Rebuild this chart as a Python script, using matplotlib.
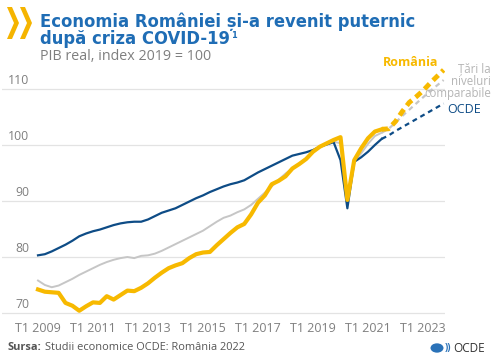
import matplotlib
matplotlib.use("Agg")
import matplotlib.pyplot as plt
import matplotlib.font_manager as fm
from matplotlib.patches import Polygon, Circle
import numpy as np

# -----------------------------
# Data (quarterly, T1 2009 = index 0)
# -----------------------------

ocde = [80.3, 80.5, 81.0, 81.6, 82.2, 82.9, 83.7, 84.2, 84.6, 84.9,
        85.3, 85.7, 86.0, 86.2, 86.3, 86.3, 86.7, 87.3, 87.9, 88.3,
        88.7, 89.3, 89.9, 90.5, 91.0, 91.6, 92.1, 92.6, 93.0, 93.3,
        93.7, 94.4, 95.1, 95.7, 96.3, 96.9, 97.5, 98.1, 98.4, 98.7,
        99.1, 99.7, 100.1, 100.5, 97.3, 88.7, 97.0, 97.8, 98.8, 100.0,
        101.1]

comparabile = [75.8, 75.0, 74.6, 74.9, 75.5, 76.1, 76.8, 77.4, 78.0, 78.6,
               79.1, 79.5, 79.8, 80.0, 79.8, 80.2, 80.3, 80.6, 81.1, 81.7,
               82.3, 82.9, 83.5, 84.1, 84.7, 85.5, 86.3, 87.0, 87.4, 88.0,
               88.5, 89.3, 90.4, 91.5, 92.6, 93.8, 94.9, 95.8, 96.6, 97.6,
               98.7, 99.6, 100.1, 100.6, 100.3, 90.5, 97.0, 98.5, 100.2, 101.6,
               102.2]

romania = [74.2, 73.8, 73.7, 73.6, 71.8, 71.3, 70.4, 71.2, 71.9, 71.8,
           73.0, 72.4, 73.2, 74.0, 73.9, 74.5, 75.3, 76.3, 77.2, 78.0,
           78.5, 78.9, 79.8, 80.5, 80.8, 80.9, 82.1, 83.2, 84.3, 85.3,
           85.9, 87.6, 89.7, 91.0, 93.0, 93.6, 94.4, 95.8, 96.6, 97.5,
           98.8, 99.7, 100.3, 100.9, 101.4, 90.2, 97.3, 99.4, 101.2, 102.4,
           102.8]

# projections, T3 2021 .. T4 2023
ocde_proj = [101.1, 101.7, 102.5, 103.2, 103.9, 104.6, 105.3, 106.0, 106.7, 107.4]
comparabile_proj = [102.2, 102.9, 104.0, 105.2, 106.3, 107.4, 108.5, 109.6, 110.6, 111.6]
romania_proj = [102.8, 102.9, 104.2, 106.0, 107.6, 108.6, 109.7, 111.0, 112.2, 113.4]

tick_years = [2009, 2011, 2013, 2015, 2017, 2019, 2021, 2023]
y_ticks = [70, 80, 90, 100, 110]
comparabile_label = ["Țări la", "niveluri", "comparabile"]

YELLOW = "#f7b900"
BLUE = "#0e4c86"
GREY = "#c6c6c6"
TITLE_BLUE = "#1f6db5"
TXT_GREY = "#7f7f7f"

plt.rcParams["font.family"] = ["Open Sans", "DejaVu Sans"]


# -----------------------------
# Helpers
# -----------------------------

def pickNarrowBold():
    narrow = []
    for f in fm.fontManager.ttflist:
        key = (f.name + " " + f.fname).lower()
        if "narrow" in key or "condensed" in key:
            narrow.append(f)
    for f in narrow:
        if "bold" in f.fname.lower() and "italic" not in f.fname.lower() \
                and "oblique" not in f.fname.lower():
            return fm.FontProperties(fname=f.fname)
    return fm.FontProperties(family=["Roboto", "DejaVu Sans"], weight="bold")


W, H = 500, 359
fig = plt.figure(figsize=(W / 100, H / 100), dpi=100)


def fx(px):
    return px / W


def fy(py):
    return 1 - py / H


# axes: x pixel 2..445, y pixel 60..316
ax = fig.add_axes([fx(2), fy(316), fx(445) - fx(2), fy(60) - fy(316)])

x_hist = np.arange(len(romania))
x_proj = np.arange(len(romania) - 1, len(romania) - 1 + len(romania_proj))

ax.set_xlim((2 - 38) / 6.875, (445 - 38) / 6.875)
ax.set_ylim(70 - (316 - 313) / 5.6, 110 + (89 - 60) / 5.6)

for v in y_ticks:
    ax.axhline(v, color="#e3e3e3", lw=0.9, zorder=0)
    ax.text(0.062, v + 0.35, str(v), transform=ax.get_yaxis_transform(),
            ha="right", va="bottom", fontsize=8.8, color=TXT_GREY)

ax.plot(x_hist, comparabile, color=GREY, lw=1.4, zorder=2, clip_on=False)
ax.plot(x_hist, ocde, color=BLUE, lw=1.6, zorder=3, clip_on=False)
ax.plot(x_hist, romania, color=YELLOW, lw=3.0, zorder=4, clip_on=False)

ax.plot(x_proj, comparabile_proj, color=GREY, lw=1.6, ls=(0, (2.2, 1.8)), zorder=2)
ax.plot(x_proj, ocde_proj, color=BLUE, lw=1.6, ls=(0, (2.2, 1.8)), zorder=3)
ax.plot(x_proj, romania_proj, color=YELLOW, lw=3.5, ls=(0, (1.5, 1.0)), zorder=4)

ax.set_xticks([(y - 2009) * 4 for y in tick_years])
ax.set_xticklabels([f"T1 {y}" for y in tick_years], fontsize=9, color=TXT_GREY)
ax.tick_params(axis="x", length=0, pad=4)
ax.set_yticks([])
for s in ax.spines.values():
    s.set_visible(False)
ax.patch.set_alpha(0)

# series labels
fig.text(fx(411), fy(63), "România", color=YELLOW, fontsize=9, fontweight="bold",
         ha="center", va="center")
for i, line in enumerate(comparabile_label):
    fig.text(fx(491), fy(70 + 11.5 * i), line, color="#b5b5b5",
             fontsize=8.3, ha="right", va="center")
fig.text(fx(464), fy(109), "OCDE", color=BLUE, fontsize=9, ha="center", va="center")

# title, sized so the first line spans the same width as the reference
tp = pickNarrowBold()
tp.set_size(14.5)
t1 = fig.text(fx(40), fy(27), "Economia României și-a revenit puternic", color=TITLE_BLUE,
              fontproperties=tp, va="baseline")
fig.canvas.draw()
scale = 372 / t1.get_window_extent().width
tp.set_size(14.5 * scale)
t1.set_fontproperties(tp)
t2 = fig.text(fx(40), fy(44.5), "după criza COVID-19", color=TITLE_BLUE,
              fontproperties=tp, va="baseline")
fig.canvas.draw()
x_end = t2.get_window_extent().x1
sp = tp.copy()
sp.set_size(6.5)
fig.text((x_end + 1) / W, fy(38), "1", color=TITLE_BLUE, fontproperties=sp, va="baseline")

fig.text(fx(40), fy(57), "PIB real, index 2019 = 100", color=TXT_GREY,
         fontsize=10.3, va="center")

# chevrons
for x0 in [7, 20]:
    pts = [(x0, 7), (x0 + 5, 7), (x0 + 12, 23), (x0 + 5, 39), (x0, 39), (x0 + 7, 23)]
    fig.patches.append(Polygon([(fx(a), fy(b)) for a, b in pts], closed=True,
                               transform=fig.transFigure, color="#f5b400", lw=0))

# source
s1 = fig.text(fx(8), fy(348), "Sursa:", color="#555555", fontsize=7.9, fontweight="bold",
              va="center")
fig.canvas.draw()
fig.text((s1.get_window_extent().x1 + 3) / W, fy(348),
         "Studii economice OCDE: România 2022", color="#555555", fontsize=7.9, va="center")

# logo
fig.patches.append(Circle((fx(437), fy(348)), 6.5 / W, transform=fig.transFigure,
                          color="#2a72b8", lw=0))
fig.text(fx(444.5), fy(348), "))", color="#2a72b8", fontsize=7, fontweight="bold",
         va="center")
fig.text(fx(453), fy(348), "OCDE", color="#333333", fontsize=8.5, va="center")

fig.savefig("out.png", dpi=100)
